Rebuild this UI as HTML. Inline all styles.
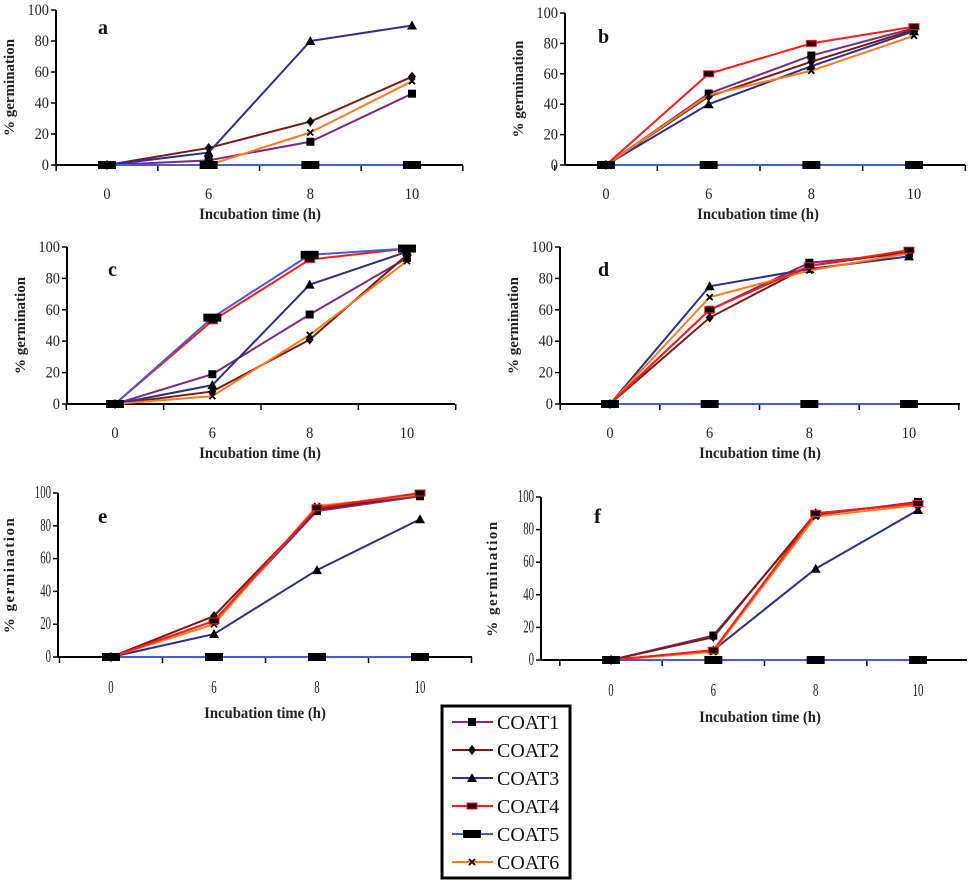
<!DOCTYPE html>
<html><head><meta charset="utf-8"><style>
html,body{margin:0;padding:0;background:#fff;width:970px;height:881px;overflow:hidden}
svg{display:block}
text{font-family:"Liberation Serif",serif}
</style></head><body>
<svg id="chart" width="970" height="881" viewBox="0 0 970 881" xmlns="http://www.w3.org/2000/svg"></svg>
<script>
const categories = ["0","6","8","10"];
const yTicks = [0,20,40,60,80,100];
const seriesNames = ["COAT1","COAT2","COAT3","COAT4","COAT5","COAT6"];
const seriesColors = ["#7b2a7e","#7a1a14","#2b2f8e","#ff1a1a","#4a5bd0","#ff7a1a"];
const panelA = [[0,3,15,46],[0,11,28,57],[0,8,80,90],[0,0,0,0],[0,0,0,0],[0,0,21,54]];
const panelB = [[0,47,72,90],[0,45,68,89],[0,40,65,88],[0,60,80,91],[0,0,0,0],[0,46,62,85]];
const panelC = [[0,19,57,93],[0,8,41,95],[0,12,76,97],[0,53,92,99],[0,55,95,99],[0,5,44,91]];
const panelD = [[0,60,90,96],[0,55,88,97],[0,75,86,94],[0,60,88,98],[0,0,0,0],[0,68,85,96]];
const panelE = [[0,22,89,98],[0,25,90,99],[0,14,53,84],[0,22,91,100],[0,0,0,0],[0,20,92,99]];
const panelF = [[0,15,89,97],[0,14,90,96],[0,6,56,92],[0,6,90,96],[0,0,0,0],[0,5,88,95]];

const NS="http://www.w3.org/2000/svg";
const svg=document.getElementById('chart');
function mk(tag,attrs,parent){const e=document.createElementNS(NS,tag);for(const k in attrs)e.setAttribute(k,attrs[k]);(parent||svg).appendChild(e);return e;}
const SERIF='"Liberation Serif", serif';

const layouts=[
 {id:"a",data:panelA,ax:56,end:463,c0:107,c3:412,y0:165,y100:10,lx:98,ly:34,tx:260,ty:219,cond:false},
 {id:"b",data:panelB,ax:565,end:965,c0:606,c3:914,y0:165,y100:13,lx:598,ly:43,tx:758,ty:219,cond:false},
 {id:"c",data:panelC,ax:67,end:455,c0:115,c3:407,y0:404,y100:247,lx:108,ly:276,tx:260,ty:458,cond:false},
 {id:"d",data:panelD,ax:560,end:960,c0:610,c3:909,y0:404,y100:247,lx:598,ly:276,tx:760,ty:458,cond:false},
 {id:"e",data:panelE,ax:58,end:472,c0:111,c3:420,y0:657,y100:493,lx:98,ly:523,tx:265,ty:718,cond:true},
 {id:"f",data:panelF,ax:541,end:967,c0:611,c3:918,y0:660,y100:497,lx:594,ly:523,tx:760,ty:722,cond:true}
];

function marker(g,k,x,y,col){
  let m;
  if(k===0){m=mk('rect',{x:x-4,y:y-4,width:8,height:8,fill:'#000'},g);}
  else if(k===1){m=mk('polygon',{points:`${x},${y-5} ${x+4},${y} ${x},${y+5} ${x-4},${y}`,fill:'#000'},g);}
  else if(k===2){m=mk('polygon',{points:`${x},${y-5} ${x+5},${y+4} ${x-5},${y+4}`,fill:'#000'},g);}
  else if(k===3){m=mk('rect',{x:x-5,y:y-3,width:10,height:6,fill:'#000',stroke:col,'stroke-width':1},g);}
  else if(k===4){m=mk('rect',{x:x-9,y:y-4,width:18,height:8,fill:'#000'},g);}
  else {m=mk('path',{d:`M${x-3},${y-3}L${x+3},${y+3}M${x+3},${y-3}L${x-3},${y+3}`,stroke:'#000','stroke-width':1.8},g);}
  return m;
}

layouts.forEach(p=>{
  const g=mk('g',{});
  
  
  const step=(p.c3-p.c0)/(categories.length-1);
  const xs=i=>p.c0+i*step;
  const ys=v=>p.y0-(v/100)*(p.y0-p.y100);
  const fs=p.cond?18:16;
  const sc=p.cond?0.6:0.9;
  const ya=mk('line',{x1:p.ax,y1:p.y100,x2:p.ax,y2:p.y0,stroke:'#000','stroke-width':2},g);
  
  
  yTicks.forEach(t=>{
    mk('line',{x1:p.ax-5,y1:ys(t),x2:p.ax,y2:ys(t),stroke:'#000','stroke-width':1.5},g);
    const x=p.ax-7;
    const tl=mk('text',{x:x,y:ys(t)+5,'text-anchor':'end','font-size':fs,'font-family':SERIF,fill:'#222',transform:`translate(${x},0) scale(${sc},1) translate(${-x},0)`},g);
    tl.textContent=t;
    
    
  });
  const xa=mk('line',{x1:p.ax,y1:p.y0,x2:p.end,y2:p.y0,stroke:'#000','stroke-width':2},g);
  
  
  for(let i=0;i<=categories.length;i++){
    const tx=p.c0-step/2+i*step;
    if(tx<=p.end+2) mk('line',{x1:tx,y1:p.y0,x2:tx,y2:p.y0+6,stroke:'#000','stroke-width':1.5},g);
  }
  categories.forEach((c,i)=>{
    const cx=xs(i);
    const tl=mk('text',{x:cx,y:p.y0+(p.cond?36:34),'text-anchor':'middle','font-size':fs,'font-family':SERIF,fill:'#222',transform:`translate(${cx},0) scale(${sc},1) translate(${-cx},0)`},g);
    tl.textContent=c;
    
    
  });
  const xt=mk('text',{x:p.tx,y:p.ty,'text-anchor':'middle','font-size':16,'font-weight':'bold','font-family':SERIF,fill:'#222',transform:`translate(${p.tx},0) scale(0.92,1) translate(${-p.tx},0)`},g);
  xt.textContent='Incubation time (h)';
  
  
  const cy=(p.y0+p.y100)/2, yx=p.cond?p.ax-44:p.ax-42;
  const yt=mk('text',{x:yx,y:cy,'text-anchor':'middle','font-size':15,'font-weight':'bold','font-family':SERIF,fill:'#222',transform:`rotate(-90 ${yx} ${cy})`,'letter-spacing':p.cond?'1.5':'0'},g);
  yt.textContent='% germination';
  
  
  const lt=mk('text',{x:p.lx,y:p.ly,'font-size':p.cond?21:20,'font-weight':'bold','font-family':SERIF,fill:'#111'},g);
  lt.textContent=p.id;
  
  
  const order=[0,1,2,5,3,4];
  order.forEach(k=>{
    const vals=p.data[k];
    const sg=mk('g',{},g);
    
    
    const pts=vals.map((v,i)=>xs(i)+','+ys(v)).join(' ');
    mk('polyline',{points:pts,fill:'none',stroke:seriesColors[k],'stroke-width':2},sg);
    vals.forEach((v,i)=>{
      const m=marker(sg,k,xs(i),ys(v),seriesColors[k]);
      
      
    });
  });
});

const lg=mk('g',{});


mk('rect',{x:442,y:706,width:128,height:172,fill:'#fff',stroke:'#000','stroke-width':3},lg);
seriesNames.forEach((n,k)=>{
  const y=722+k*28;
  const eg=mk('g',{},lg);
  
  
  mk('line',{x1:452,y1:y,x2:493,y2:y,stroke:seriesColors[k],'stroke-width':2},eg);
  marker(eg,k,472,y,seriesColors[k]);
  const t=mk('text',{x:497,y:y+7,'font-size':20,'font-family':SERIF,fill:'#111'},eg);
  t.textContent=n;
});
</script>
</body></html>
